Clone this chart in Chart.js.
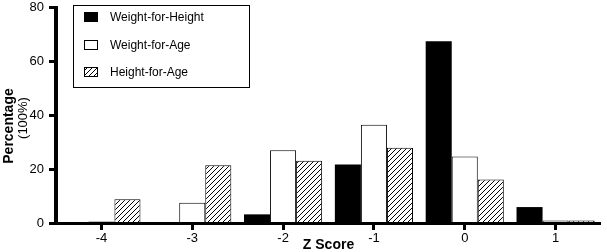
<!DOCTYPE html>
<html>
<head>
<meta charset="utf-8">
<script src="https://cdn.jsdelivr.net/npm/chart.js@4.4.0/dist/chart.umd.min.js"></script>
<style>
  html, body { margin: 0; padding: 0; background: #fff; }
  #wrap { width: 607px; height: 252px; }
</style>
</head>
<body>
<div id="wrap"><canvas id="c" width="607" height="252"></canvas></div>
<script>
const categories = ['-4', '-3', '-2', '-1', '0', '1'];
const weightForHeight = [0, 0, 3.2, 21.7, 67.3, 5.9];
const weightForAge = [0.6, 7.5, 26.9, 36.4, 24.6, 0.9];
const heightForAge = [8.8, 21.4, 23.1, 27.9, 16.1, 0.9];
const seriesLabels = ['Weight-for-Height', 'Weight-for-Age', 'Height-for-Age'];
const yMin = 0, yMax = 80, yStep = 20;
const xTitle = 'Z Score';
const yTitle = 'Percentage';
const yTitle2 = '(100%)';

function makeHatch(size) {
  const c = document.createElement('canvas');
  c.width = size; c.height = size;
  const g = c.getContext('2d');
  g.fillStyle = '#fff';
  g.fillRect(0, 0, size, size);
  g.strokeStyle = '#000';
  g.lineWidth = 1;
  g.beginPath();
  g.moveTo(-1, size + 1); g.lineTo(size + 1, -1);
  g.moveTo(-1, 1); g.lineTo(1, -1);
  g.moveTo(size - 1, size + 1); g.lineTo(size + 1, size - 1);
  g.stroke();
  return c;
}
const ctx = document.getElementById('c').getContext('2d');
const hatch = ctx.createPattern(makeHatch(5), 'repeat');

const FONT = "'Liberation Sans', Arial, sans-serif";
Chart.defaults.font.family = FONT;
Chart.defaults.color = '#000';

const AXIS_COLOR = '#000';

const overlay = {
  id: 'overlay',
  afterDraw(chart) {
    const g = chart.ctx;
    const a = chart.chartArea;
    g.save();
    g.fillStyle = AXIS_COLOR;
    g.fillRect(Math.round(a.left) - 2, Math.round(a.top) - 1, 4, Math.round(a.bottom - a.top) + 3);
    g.fillRect(Math.round(a.left) - 2, Math.round(a.bottom) - 1, Math.round(a.right - a.left) + 2, 3);
    g.strokeStyle = '#000';
    g.lineWidth = 1;
    g.strokeRect(73.5, 5.5, 176, 82);
    const rows = [17, 45, 72];
    const fills = ['#000', '#fff', hatch];
    g.font = '12px ' + FONT;
    g.textBaseline = 'middle';
    g.textAlign = 'left';
    for (let i = 0; i < 3; i++) {
      const y = rows[i];
      g.fillStyle = fills[i];
      g.fillRect(84, y - 5, 14, 10);
      g.strokeStyle = '#000';
      g.strokeRect(84.5, y - 4.5, 13, 9);
      g.fillStyle = '#000';
      g.fillText(seriesLabels[i], 110, y + 1);
    }
    g.font = 'bold 14px ' + FONT;
    g.textAlign = 'center';
    g.fillText(xTitle, (a.left + a.right) / 2, 245);
    g.translate(9, 126);
    g.rotate(-Math.PI / 2);
    g.fillText(yTitle, 0, 0);
    g.restore();
    g.save();
    g.translate(23, 118);
    g.rotate(-Math.PI / 2);
    g.font = '13px ' + FONT;
    g.textAlign = 'center';
    g.textBaseline = 'middle';
    g.fillStyle = '#000';
    g.fillText(yTitle2, 0, 0);
    g.restore();
  }
};

new Chart(ctx, {
  type: 'bar',
  data: {
    labels: categories,
    datasets: [
      { label: seriesLabels[0], data: weightForHeight, backgroundColor: '#000', borderColor: '#000', borderWidth: 0 },
      { label: seriesLabels[1], data: weightForAge, backgroundColor: '#fff', borderColor: '#000', borderWidth: 1 },
      { label: seriesLabels[2], data: heightForAge, backgroundColor: hatch, borderColor: '#000', borderWidth: 1 }
    ]
  },
  options: {
    responsive: false,
    animation: false,
    layout: { padding: { top: 0, right: 6, left: 0, bottom: 0 } },
    datasets: { bar: { categoryPercentage: 0.86, barPercentage: 1.0 } },
    plugins: { legend: { display: false }, tooltip: { enabled: false }, title: { display: false } },
    scales: {
      x: {
        offset: true,
        grid: { offset: false, drawOnChartArea: false, drawTicks: true, tickLength: 7, tickWidth: 3, tickColor: '#000' },
        border: { display: false },
        ticks: { font: { size: 13 }, color: '#000', padding: 1, maxRotation: 0 },
        afterFit(s) { s.height = 29; }
      },
      y: {
        min: yMin, max: yMax,
        grid: { drawOnChartArea: false, drawTicks: true, tickLength: 7, tickWidth: 3, tickColor: '#000' },
        border: { display: false },
        ticks: { stepSize: yStep, font: { size: 13 }, color: '#000', padding: 5 },
        afterFit(s) { s.width = 56; s.paddingTop = 7; }
      }
    }
  },
  plugins: [overlay]
});
</script>
</body>
</html>
